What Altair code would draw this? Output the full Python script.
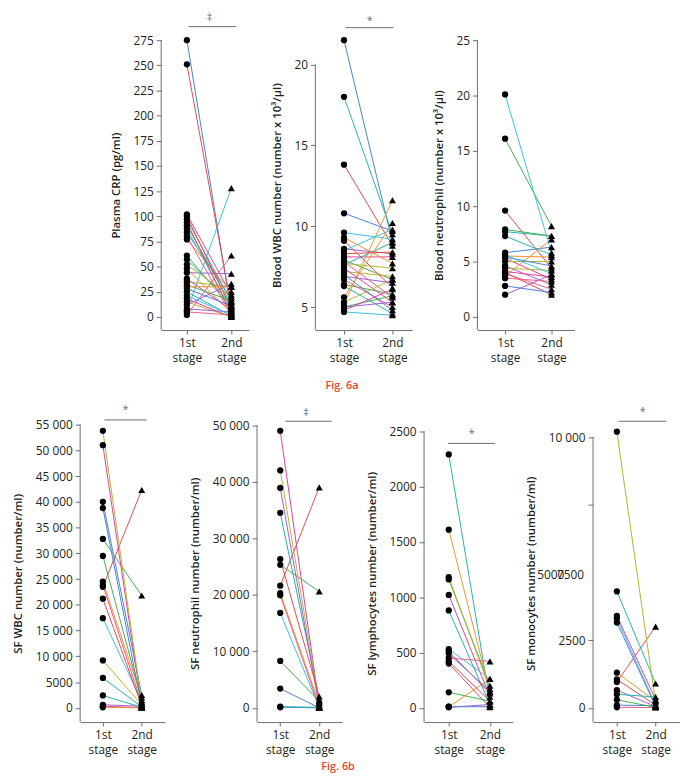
import altair as alt
import pandas as pd

# ---------------- data ----------------
crp_first = [275, 251, 97, 91, 102, 77, 35, 44, 6, 2, 84, 100, 57, 61, 38, 48, 52, 12, 88, 80,
             28, 94, 25, 32, 18, 30, 15, 8, 21, 5]
crp_second = [5, 10, 15, 12, 22, 25, 30, 43, 128, 61, 18, 8, 14, 9, 7, 4, 20, 33, 6, 2,
              11, 3, 1, 16, 0, 30, 0, 5, 2, 2]

wbc_first = [21.5, 13.8, 18.0, 7.9, 8.1, 5.2, 7.2, 8.6, 9.6, 7.8, 10.8, 9.1, 7.6, 6.4, 7.4,
             9.3, 5.3, 6.9, 8.5, 6.7, 7.0, 8.3, 6.3, 5.0, 4.8, 5.6, 7.7, 5.0, 4.7]
wbc_second = [9.0, 8.8, 9.5, 6.7, 8.1, 11.6, 6.9, 8.3, 9.2, 5.6, 9.7, 6.2, 9.0, 5.8, 5.3,
              7.7, 6.7, 6.5, 9.8, 5.0, 4.8, 8.4, 4.6, 5.7, 6.1, 10.2, 7.4, 5.3, 4.5]

neu_first = [5.8, 9.6, 7.3, 16.1, 5.3, 3.7, 5.0, 4.6, 20.1, 3.9, 5.4, 4.0, 7.7, 7.9, 4.1,
             5.5, 4.4, 2.0, 5.6, 3.5, 2.8]
neu_second = [6.3, 4.4, 5.6, 8.2, 3.4, 7.0, 5.0, 2.9, 5.8, 2.5, 4.6, 2.0, 7.3, 7.3, 3.6,
              5.4, 4.2, 3.8, 3.9, 3.2, 2.2]

sfwbc_first = [40000, 23500, 2400, 32800, 51000, 24500, 53800, 600, 17400, 23800, 38800,
               21200, 5800, 29500, 300, 100, 9200]
sfwbc_second = [2500, 42300, 100, 21800, 500, 2000, 1000, 300, 1200, 800, 300,
                400, 200, 1500, 50, 0, 600]

sfneu_first = [3400, 21600, 34500, 25300, 49000, 20300, 42000, 38900, 16800, 19900, 100,
               26300, 200, 8300]
sfneu_second = [0, 39000, 1500, 20600, 500, 800, 1000, 300, 100, 200, 0,
                2000, 100, 1200]

lym_first = [490, 400, 2290, 1160, 1020, 10, 1180, 5, 530, 450, 10, 420, 880, 140, 510, 1610]
lym_second = [150, 5, 60, 200, 100, 260, 170, 30, 260, 420, 10, 60, 30, 60, 130, 140]

mono_first = [100, 950, 4300, 300, 3400, 1300, 10200, 650, 3300, 20, 3150, 1050, 500]
mono_second = [80, 3000, 900, 20, 300, 250, 200, 50, 100, 10, 50, 100, 400]

# ---------------- style ----------------
PALETTE = ["#4a7fd6", "#e8474f", "#22b2b0", "#47ae4d", "#df3f9b",
           "#f0922f", "#b3b52d", "#9b5ecf", "#37c0e3", "#ec5a86"]
FONT = "Open Sans"
AX = "#6d6e71"
TXT = "#231f20"
RED = "#e8452c"

FMT = "datum.value >= 10000 ? replace(format(datum.value, ','), ',', ' ') : format(datum.value, 'd')"
XLAB = "datum.value == 0 ? ['1st','stage'] : ['2nd','stage']"
NOVIEW = alt.ViewBackground(strokeWidth=0, stroke="transparent")


def one():
    return pd.DataFrame({"a": [0]})


def panel(first, second, title, ydom, ytop, yvals, width, height, xdom,
          sig=None, label_expr=FMT, extra=None):
    rows = []
    for i, (a, b) in enumerate(zip(first, second)):
        col = PALETTE[i % len(PALETTE)]
        rows.append({"id": i, "stage": 0, "value": a, "col": col})
        rows.append({"id": i, "stage": 1, "value": b, "col": col})
    df = pd.DataFrame(rows)

    xs = alt.Scale(domain=xdom, nice=False, zero=False)
    ys = alt.Scale(domain=ydom, nice=False, zero=False)
    xax = alt.Axis(values=[0, 1], labelExpr=XLAB, title=None, grid=False,
                   tickSize=4, labelPadding=4, labelFontSize=12,
                   labelLineHeight=15, domainColor=AX, tickColor=AX,
                   labelColor=TXT, labelFont=FONT, labelOverlap=False)
    yax = alt.Axis(values=yvals, labelExpr=label_expr, title=title, grid=False,
                   domain=False, tickSize=5, labelPadding=3, labelFontSize=12,
                   labelColor=TXT, tickColor=AX, titleFontSize=11.5,
                   titleFontWeight=600, titleColor=TXT, titlePadding=12,
                   labelFont=FONT, titleFont=FONT, labelOverlap=False,
                   labelSeparation=0)
    xenc = alt.X("stage:Q", scale=xs, axis=xax)
    yenc = alt.Y("value:Q", scale=ys, axis=yax)
    base = alt.Chart(df)
    lines = base.mark_line(strokeWidth=1).encode(
        x=xenc, y=yenc, detail="id:N", color=alt.Color("col:N", scale=None))
    circ = base.transform_filter("datum.stage == 0").mark_point(
        shape="circle", filled=True, color="black", opacity=1, size=40).encode(
        x=xenc, y=yenc)
    tri = base.transform_filter("datum.stage == 1").mark_point(
        shape="triangle-up", filled=True, color="black", opacity=1, size=50).encode(
        x=xenc, y=yenc)
    dom = alt.Chart(one()).mark_rule(color=AX, strokeWidth=1).encode(
        x=alt.value(0), y=alt.YDatum(ytop, axis=yax), y2=alt.value(height))
    layers = [lines, dom, circ, tri]
    if sig:
        x1, x2, py, sym, sx, sy = sig
        layers.append(alt.Chart(one()).mark_rule(color=AX, strokeWidth=1).encode(
            x=alt.XDatum(x1, axis=xax), x2=alt.X2Datum(x2), y=alt.value(py)))
        layers.append(alt.Chart(one()).mark_text(
            text=sym, font=FONT, fontSize=11, color=AX, baseline="alphabetic").encode(
            x=alt.XDatum(sx, axis=xax), y=alt.value(sy)))
    if extra:
        layers.extend(extra)
    return alt.layer(*layers).properties(width=width, height=height, view=NOVIEW)


def spacer(w, h):
    return alt.Chart(one()).mark_point(opacity=0).encode(
        x=alt.X("a:Q", axis=None), y=alt.Y("a:Q", axis=None)).properties(
        width=w, height=h, view=NOVIEW)


H1 = 293.3
H2 = 301

cap_a = alt.Chart(one()).mark_text(text="Fig. 6a", font=FONT, fontSize=11,
                                   fontWeight=600, color=RED).encode(
    x=alt.value(27), y=alt.value(350))
cap_b = alt.Chart(one()).mark_text(text="Fig. 6b", font=FONT, fontSize=11,
                                   fontWeight=600, color=RED).encode(
    x=alt.value(82), y=alt.value(346))

p1 = panel(crp_first, crp_second, "Plasma CRP (pg/ml)", [-13, 275], 275,
           list(range(0, 276, 25)), 89, H1, [-0.578, 1.4],
           sig=(0.04, 1.11, -13.7, "‡", 0.51, -19))
p2 = panel(wbc_first, wbc_second, "Blood WBC number (number x 10³/μl)", [3.58, 21.5], 20,
           [5, 10, 15, 20], 98, H1, [-0.592, 1.408],
           sig=(0.04, 1.02, -12.7, "*", 0.53, -16), extra=[cap_a])
p3 = panel(neu_first, neu_second, "Blood neutrophil (number x 10³/μl)", [-1.19, 25], 25,
           list(range(0, 26, 5)), 98, H1, [-0.596, 1.49])

p4 = panel(sfwbc_first, sfwbc_second, "SF WBC number (number/ml)", [-2763, 55000], 55000,
           list(range(0, 55001, 5000)), 86, H2, [-0.585, 1.603],
           sig=(0.04, 1.13, -4.7, "*", 0.58, -11.5))
p5 = panel(sfneu_first, sfneu_second, "SF neutrophil number (number/ml)", [-2517, 50105], 50000,
           list(range(0, 50001, 10000)), 86, H2, [-0.595, 1.585],
           sig=(0.13, 1.32, -3.4, "‡", 0.66, -8.5), extra=[cap_b])
p6 = panel(lym_first, lym_second, "SF lymphocytes number (number/ml)", [-128.6, 2559], 2500,
           list(range(0, 2501, 500)), 90, H2, [-0.6, 1.56],
           sig=(-0.02, 1.13, 19, "*", 0.56, 13))

mono_extra = [
    alt.Chart(one()).mark_text(text="7500", font=FONT, fontSize=12, color=TXT,
                               align="right", baseline="middle", dy=3).encode(
        x=alt.value(-9), y=alt.YDatum(5000)),
    alt.Chart(one()).mark_text(text="5000", font=FONT, fontSize=12, color=TXT,
                               align="right", baseline="middle", dy=3).encode(
        x=alt.value(-29), y=alt.YDatum(5000)),
]
MONO_LAB = "datum.value == 7500 ? '' : (" + FMT + ")"
p7 = panel(mono_first, mono_second, "SF monocytes number (number/ml)", [-525.5, 10460], 10000,
           [0, 2500, 7500, 10000], 88, H2, [-0.615, 1.63],
           sig=(0.04, 1.28, -3.4, "*", 0.67, -9.7), label_expr=MONO_LAB, extra=mono_extra)

row1 = alt.hconcat(spacer(82, H1), p1, spacer(67, H1), p2, spacer(66, H1), p3,
                   spacing=0, bounds="flush")
row2 = alt.hconcat(p4, spacer(93, H2), p5, spacer(83, H2), p6, spacer(81, H2), p7,
                   spacing=0, bounds="flush")

chart = alt.vconcat(row1, row2, spacing=13).properties(
    padding={"left": 4, "top": 0, "right": 0, "bottom": 0}
).configure(font=FONT).configure_view(strokeWidth=0, stroke="transparent")

chart.save("out.html", embed_options={"renderer": "svg", "actions": False})
